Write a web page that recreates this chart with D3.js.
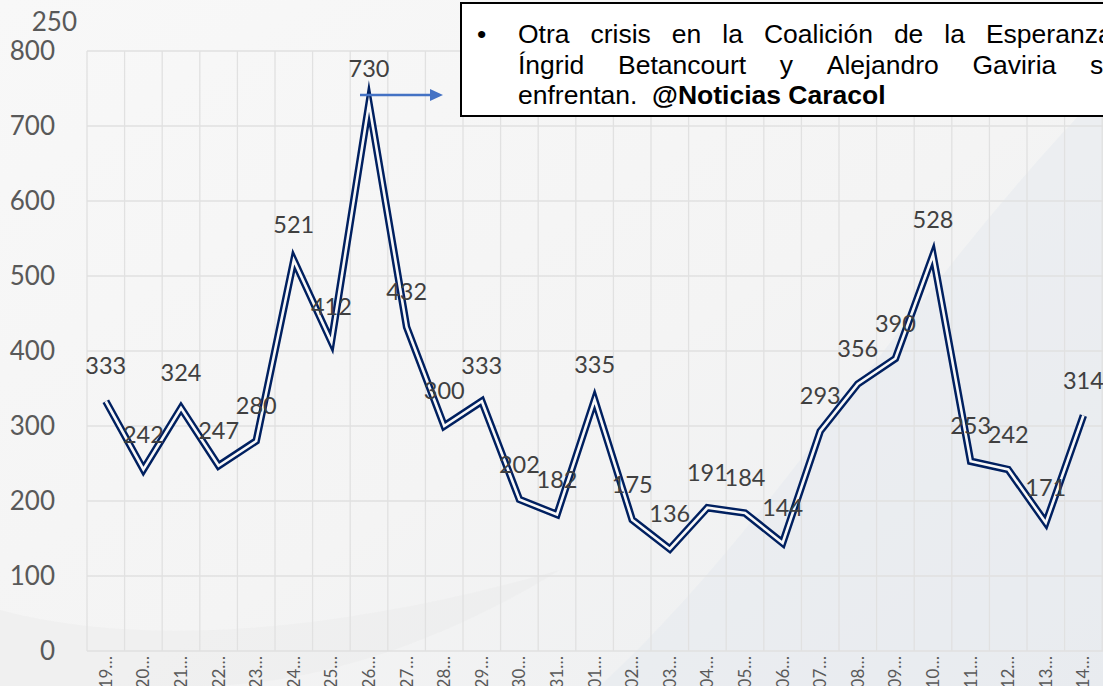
<!DOCTYPE html>
<html>
<head>
<meta charset="utf-8">
<script src="https://cdn.jsdelivr.net/npm/d3@7/dist/d3.min.js"></script>
<style>
  body { margin: 0; background: #f5f5f5; }
  svg { display: block; }
</style>
</head>
<body>
<svg id="chart" width="1103" height="686"></svg>
<script>
// dates (truncated labels as shown on the axis)
const days = ["19","20","21","22","23","24","25","26","27","28","29","30","31",
              "01","02","03","04","05","06","07","08","09","10","11","12","13","14"];
const counts = [333,242,324,247,280,521,412,730,432,300,333,202,182,335,175,136,
                191,184,144,293,356,390,528,253,242,171,314];
const yTicks = [0,100,200,300,400,500,600,700,800];
const noteLine1 = "Otra crisis en la Coalición de la Esperanza:";
const noteLine2 = "Íngrid Betancourt y Alejandro Gaviria se";
const noteLine3a = "enfrentan.";
const noteLine3b = "@Noticias Caracol";

const W = 1103, H = 686;
const margin = { top: 51, right: 0, bottom: 35, left: 87 };
const svg = d3.select("#chart");

// background, a soft slide-like wash
const defs = svg.append("defs");
const bg = defs.append("linearGradient").attr("id", "bg")
  .attr("x1", 0).attr("y1", 0).attr("x2", 1).attr("y2", 1);
bg.append("stop").attr("offset", "0%").attr("stop-color", "#f8f8f8");
bg.append("stop").attr("offset", "55%").attr("stop-color", "#f4f4f4");
bg.append("stop").attr("offset", "100%").attr("stop-color", "#eceef0");
svg.append("rect").attr("width", W).attr("height", H).attr("fill", "url(#bg)");
svg.append("path")
  .attr("d", "M600,686 C780,520 900,300 1103,90 L1103,686 Z")
  .attr("fill", "#e6eaee").attr("opacity", 0.55);
svg.append("path")
  .attr("d", "M0,610 C150,650 350,630 560,570 C430,650 300,686 200,686 L0,686 Z")
  .attr("fill", "#e9e9e9").attr("opacity", 0.35);

const x = d3.scaleBand().domain(days.map((d, i) => i))
  .range([margin.left, margin.left + 37.6 * days.length]);
const y = d3.scaleLinear().domain([0, 800]).range([H - margin.bottom, margin.top]);

// gridlines
const grid = svg.append("g");
grid.selectAll(".h").data(yTicks).enter().append("line")
  .attr("x1", margin.left).attr("x2", W)
  .attr("y1", d => y(d)).attr("y2", d => y(d))
  .attr("stroke", "#e1e1e1").attr("stroke-width", 1.3);
grid.selectAll(".v").data(d3.range(days.length + 1)).enter().append("line")
  .attr("x1", i => margin.left + i * x.step()).attr("x2", i => margin.left + i * x.step())
  .attr("y1", y(800)).attr("y2", y(0))
  .attr("stroke", "#e1e1e1").attr("stroke-width", 1.3);

// y axis
const yAxis = svg.append("g")
  .attr("transform", `translate(${margin.left},0)`)
  .call(d3.axisLeft(y).tickValues(yTicks).tickSize(0).tickPadding(32));
yAxis.select(".domain").remove();
yAxis.selectAll("text")
  .attr("font-family", "Lato, 'Open Sans', sans-serif")
  .attr("font-size", 26).attr("fill", "#595959");
svg.append("text")
  .attr("x", 77).attr("y", 31).attr("text-anchor", "end")
  .attr("font-family", "Lato, 'Open Sans', sans-serif")
  .attr("font-size", 26).attr("fill", "#595959")
  .text("250");

// x axis
const xAxis = svg.append("g")
  .attr("transform", `translate(0,${y(0)})`)
  .call(d3.axisBottom(x).tickSize(0).tickFormat(i => days[i] + "…"));
xAxis.select(".domain").remove();
xAxis.selectAll("text")
  .attr("font-family", "Lato, 'Open Sans', sans-serif")
  .attr("font-size", 17).attr("fill", "#595959")
  .attr("text-anchor", "end")
  .attr("transform", "rotate(-90)")
  .attr("x", -5).attr("y", 0).attr("dy", "0.35em");

// double line
const line = d3.line().x((d, i) => x(i) + x.bandwidth() / 2).y(d => y(d));
svg.append("path").datum(counts)
  .attr("d", line).attr("fill", "none")
  .attr("stroke", "#002060").attr("stroke-width", 7.5)
  .attr("stroke-linejoin", "miter").attr("stroke-miterlimit", 10);
svg.append("path").datum(counts)
  .attr("d", line).attr("fill", "none")
  .attr("stroke", "#f8f8f8").attr("stroke-width", 2.6)
  .attr("stroke-linejoin", "miter").attr("stroke-miterlimit", 10);

// data labels
svg.selectAll(".lbl").data(counts).enter().append("text")
  .attr("x", (d, i) => x(i) + x.bandwidth() / 2)
  .attr("y", d => y(d) - 27)
  .attr("text-anchor", "middle")
  .attr("font-family", "Lato, 'Open Sans', sans-serif")
  .attr("font-size", 23.5).attr("fill", "#404040")
  .text(d => d);

// arrow pointing to the note
const arrowY = 95;
svg.append("line")
  .attr("x1", 360).attr("x2", 432).attr("y1", arrowY).attr("y2", arrowY)
  .attr("stroke", "#4472c4").attr("stroke-width", 2.5);
svg.append("path")
  .attr("d", `M430,${arrowY - 6} L443,${arrowY} L430,${arrowY + 6} Z`)
  .attr("fill", "#4472c4");

// note box
svg.append("rect")
  .attr("x", 461).attr("y", 3).attr("width", 700).attr("height", 113)
  .attr("fill", "#ffffff").attr("stroke", "#000000").attr("stroke-width", 2);

const note = svg.append("g")
  .attr("font-family", "'Liberation Sans', Arial, sans-serif")
  .attr("font-size", 26.5).attr("fill", "#000000");
note.append("text").attr("x", 477).attr("y", 43).text("•");

function justify(str, x0, x1, yy) {
  const words = str.split(" ");
  const t = note.append("text").attr("y", yy);
  const spans = words.map(w => t.append("tspan").text(w));
  const widths = spans.map(s => s.node().getComputedTextLength());
  const gap = (x1 - x0 - d3.sum(widths)) / (words.length - 1);
  let cx = x0;
  spans.forEach((s, i) => { s.attr("x", cx); cx += widths[i] + gap; });
}
justify(noteLine1, 518, 1120, 43);
justify(noteLine2, 518, 1118, 74);
const l3 = note.append("text").attr("x", 518).attr("y", 104);
l3.append("tspan").text(noteLine3a + "\u00a0\u00a0");
l3.append("tspan").attr("font-weight", "bold").text(noteLine3b);
</script>
</body>
</html>
